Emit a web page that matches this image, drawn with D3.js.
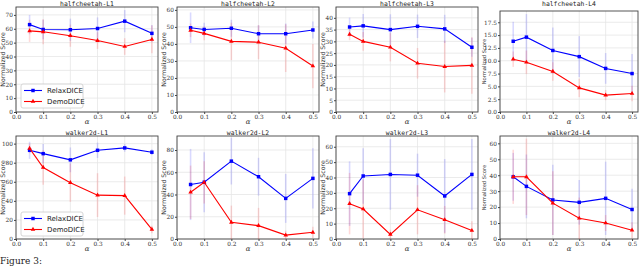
<!DOCTYPE html>
<html>
<head>
<meta charset="utf-8">
<script src="https://cdn.jsdelivr.net/npm/d3@7"></script>
<style>
  body { margin: 0; background: #fff; }
  svg { display: block; }
</style>
</head>
<body>
<div id="chart"></div>
<script>
// alpha values shared by every panel
const alphas = [0.05, 0.1, 0.2, 0.3, 0.4, 0.5]
const xTicks = [0, 0.1, 0.2, 0.3, 0.4, 0.5]

const titles = ['halfcheetah-L1', 'halfcheetah-L2', 'halfcheetah-L3', 'halfcheetah-L4',
  'walker2d-L1', 'walker2d-L2', 'walker2d-L3', 'walker2d-L4']

const relax = [
  [63, 59.5, 59.3, 60.2, 65.5, 56.7],
  [49.5, 48.5, 49.2, 46, 46, 48.2],
  [36.1, 36.6, 35, 36.4, 35.3, 27.5],
  [13.8, 14.6, 12.0, 10.8, 8.5, 7.5],
  [93, 89.5, 83, 93, 95.5, 91],
  [49, 51, 70, 56, 36.5, 54.5],
  [29.5, 41, 42, 41.5, 28, 42],
  [39, 33, 24.5, 23, 25.5, 18.5],
]
const relaxErr = [
  [7, 7, 8, 8, 8, 6],
  [9, 4, 5, 5, 6, 5],
  [4, 5, 6.5, 5, 6, 4],
  [3.8, 4.5, 4.5, 4, 3, 3.8],
  [9, 10, 13, 8, 4, 3],
  [32, 27, 21, 17, 22, 27],
  [21, 18, 23, 14, 24, 23],
  [15, 20, 22, 14, 23, 13],
]
const demo = [
  [58.5, 57.8, 55, 51.5, 47.2, 52.3],
  [48, 46.2, 41.5, 41, 37.5, 27],
  [33, 30, 27.5, 20.7, 19.3, 19.8],
  [10.3, 9.7, 7.9, 4.7, 3.3, 3.6],
  [95, 75, 59, 46, 45.5, 10],
  [42, 51, 15, 12, 3.5, 6],
  [23, 19.5, 3, 19, 12.5, 5.5],
  [39, 39, 22.5, 13, 10, 5.5],
]
const demoErr = [
  [8, 9, 8, 6, 6, 10],
  [4, 4, 11, 10, 14, 13],
  [2.5, 4, 6, 6.5, 11, 12],
  [1.5, 2.3, 1.8, 1.8, 1, 1.5],
  [5, 18, 20, 23, 20, 4],
  [24, 19, 15, 16, 4, 5],
  [20, 19, 3, 16, 9, 6],
  [17, 24, 20, 13, 5, 5],
]
const yMax = [75.7, 61.7, 44.6, 19.7, 108, 92.6, 67, 64.6]
const yStep = [10, 10, 5, 2.5, 20, 20, 10, 10]
const seriesNames = ['RelaxDICE', 'DemoDICE']

const width = 640, height = 266
const colLeft = [16, 177, 336, 500]
const colRight = [158, 319, 478, 638]
const panelTop = [7, 7, 7, 11, 136, 136, 136, 136]
const rowBottom = [112, 239]

const svg = d3.select('#chart').append('svg')
  .attr('width', width).attr('height', height)

const serif = 'DejaVu Serif'
const mono = 'DejaVu Sans Mono'

titles.forEach((title, i) => {
  const col = i % 4, row = Math.floor(i / 4)
  const x0 = colLeft[col], x1 = colRight[col]
  const y0 = panelTop[i], y1 = rowBottom[row]

  const x = d3.scaleLinear().domain([0, 0.5225]).range([x0, x1])
  const y = d3.scaleLinear().domain([0, yMax[i]]).range([y1, y0])
  const yTicks = d3.range(0, yMax[i] + 1e-9, yStep[i])
  const yFmt = yStep[i] % 1 ? d3.format('.1f') : d3.format('d')

  const g = svg.append('g')

  // grid
  g.selectAll('.gx').data(xTicks).enter().append('line')
    .attr('x1', d => x(d)).attr('x2', d => x(d))
    .attr('y1', y0).attr('y2', y1)
    .attr('stroke', '#e6e6e6').attr('stroke-width', 0.8)
  g.selectAll('.gy').data(yTicks).enter().append('line')
    .attr('x1', x0).attr('x2', x1)
    .attr('y1', d => y(d)).attr('y2', d => y(d))
    .attr('stroke', '#e6e6e6').attr('stroke-width', 0.8)

  // axes
  const xAxis = d3.axisBottom(x).tickValues(xTicks).tickFormat(d3.format('.1f')).tickSize(2).tickPadding(1)
  const yAxis = d3.axisLeft(y).tickValues(yTicks).tickFormat(yFmt).tickSize(2).tickPadding(1)
  const ax = g.append('g').attr('transform', `translate(0,${y1})`).call(xAxis)
  const ay = g.append('g').attr('transform', `translate(${x0},0)`).call(yAxis)
  ;[ax, ay].forEach(a => {
    a.select('.domain').remove()
    a.selectAll('line').attr('stroke', '#444')
    a.selectAll('text').attr('font-family', serif).attr('font-size', 5.8).attr('fill', '#333')
  })

  // frame
  g.append('rect').attr('x', x0).attr('y', y0)
    .attr('width', x1 - x0).attr('height', y1 - y0)
    .attr('fill', 'none').attr('stroke', '#444').attr('stroke-width', 0.9)

  // title + labels
  g.append('text').attr('x', (x0 + x1) / 2).attr('y', (row === 0 ? 7 : 136) - 1.5)
    .attr('text-anchor', 'middle').attr('font-family', mono).attr('font-size', 6.4)
    .attr('fill', '#222').text(title)
  g.append('text').attr('x', (x0 + x1) / 2).attr('y', y1 + 12)
    .attr('text-anchor', 'middle').attr('font-family', serif).attr('font-size', 7)
    .attr('font-style', 'italic').attr('fill', '#333').text('α')
  g.append('text')
    .attr('transform', `translate(${x0 - (col === 3 ? 14 : 11)},${(y0 + y1) / 2}) rotate(-90)`)
    .attr('text-anchor', 'middle').attr('font-family', 'DejaVu Sans')
    .attr('font-size', col === 3 ? 5.2 : 6.2)
    .attr('fill', '#333').text('Normalized Score')

  const series = [
    { vals: relax[i], err: relaxErr[i], color: '#0000ff', shape: d3.symbolSquare },
    { vals: demo[i], err: demoErr[i], color: '#ff0000', shape: d3.symbolTriangle },
  ]

  series.forEach(s => {
    g.selectAll(null).data(s.vals).enter().append('line')
      .attr('x1', (d, j) => x(alphas[j])).attr('x2', (d, j) => x(alphas[j]))
      .attr('y1', (d, j) => y(Math.max(0, d - s.err[j])))
      .attr('y2', (d, j) => y(Math.min(yMax[i], d + s.err[j])))
      .attr('stroke', s.color).attr('stroke-opacity', 0.15).attr('stroke-width', 1.6)
  })
  series.forEach(s => {
    const line = d3.line().x((d, j) => x(alphas[j])).y(d => y(d))
    g.append('path').datum(s.vals).attr('d', line)
      .attr('fill', 'none').attr('stroke', s.color).attr('stroke-width', 1.1)
    g.selectAll(null).data(s.vals).enter().append('path')
      .attr('d', d3.symbol().type(s.shape).size(s.shape === d3.symbolSquare ? 12 : 9))
      .attr('transform', (d, j) => `translate(${x(alphas[j])},${y(d)})`)
      .attr('fill', s.color)
  })

  // legend in the first column
  if (col === 0) {
    const lx = x0 + 5, ly = row === 0 ? 84 : 212
    const lg = g.append('g').attr('transform', `translate(${lx},${ly})`)
    lg.append('rect').attr('width', 62).attr('height', 24).attr('rx', 2)
      .attr('fill', '#fff').attr('fill-opacity', 0.85).attr('stroke', '#ccc').attr('stroke-width', 0.8)
    series.forEach((s, k) => {
      const cy = 6.5 + k * 11
      lg.append('line').attr('x1', 3).attr('x2', 21).attr('y1', cy).attr('y2', cy)
        .attr('stroke', s.color).attr('stroke-width', 1.1)
      lg.append('path').attr('d', d3.symbol().type(s.shape).size(s.shape === d3.symbolSquare ? 12 : 9))
        .attr('transform', `translate(12,${cy})`).attr('fill', s.color)
      lg.append('text').attr('x', 26).attr('y', cy + 2.6).attr('font-family', 'DejaVu Sans')
        .attr('font-size', 7).attr('fill', '#222').text(seriesNames[k])
    })
  }
})

svg.append('text').attr('x', 0).attr('y', 264).attr('font-family', serif)
  .attr('font-size', 9).attr('fill', '#222').text('Figure 3:')
</script>
</body>
</html>
